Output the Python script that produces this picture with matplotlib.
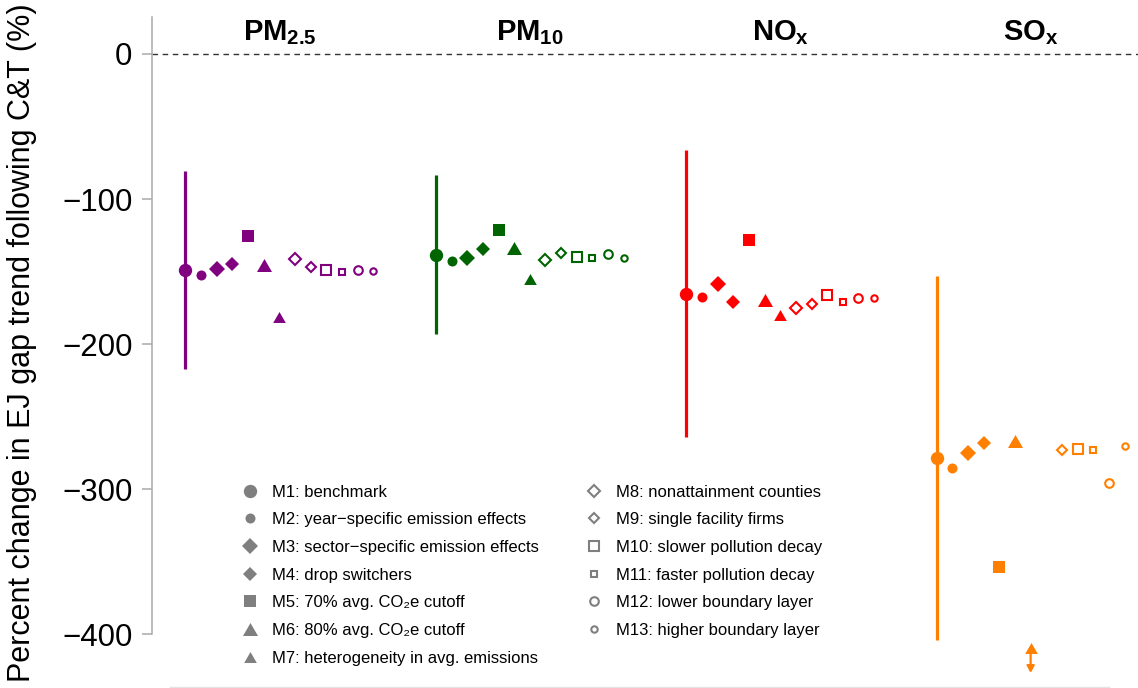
import numpy as np
import matplotlib
matplotlib.use("Agg")
import matplotlib.pyplot as plt
from matplotlib.lines import Line2D

plt.rcParams['font.family'] = ['Liberation Sans', 'DejaVu Sans']
plt.rcParams['mathtext.fontset'] = 'custom'
plt.rcParams['mathtext.rm'] = 'Liberation Sans'
plt.rcParams['mathtext.bf'] = 'Liberation Sans:bold'

# pollutants and their colours
pollutants = [r'$\mathbf{PM}_{\mathbf{2.5}}$', r'$\mathbf{PM}_{\mathbf{10}}$',
              r'$\mathbf{NO}_{\mathbf{x}}$', r'$\mathbf{SO}_{\mathbf{x}}$']
colors = ['#800080', '#006400', '#ff0000', '#ff7f00']

# 95% CI of the benchmark model (M1)
ci_low = [-217.2, -193.1, -264.1, -404.1]
ci_high = [-80.7, -83.4, -66.2, -153.1]

# point estimates, models M1..M13 (nan = not estimated)
pm25 = [-148.9, -152.2, -148.5, -144.8, -125.5, -145.5, -181.5,
        -141.6, -146.7, -149.0, -150.6, -149.0, -149.9]
pm10 = [-138.6, -142.5, -140.9, -134.5, -121.4, -133.8, -155.0,
        -142.0, -137.0, -139.8, -140.7, -137.9, -140.5]
nox = [-165.3, -167.4, -158.6, -171.2, -128.5, -169.9, -179.9,
       -175.0, -172.6, -166.0, -171.2, -168.3, -168.3]
sox = [-278.6, -285.3, -275.4, -268.5, -354.0, -266.9, -480.0,
       np.nan, -273.1, -272.4, -273.1, -295.6, -270.3]

model_labels = [
    'M1: benchmark',
    'M2: year\u2212specific emission effects',
    'M3: sector\u2212specific emission effects',
    'M4: drop switchers',
    'M5: 70% avg. CO\u2082e cutoff',
    'M6: 80% avg. CO\u2082e cutoff',
    'M7: heterogeneity in avg. emissions',
    'M8: nonattainment counties',
    'M9: single facility firms',
    'M10: slower pollution decay',
    'M11: faster pollution decay',
    'M12: lower boundary layer',
    'M13: higher boundary layer',
]

estimates = [pm25, pm10, nox, sox]

tri = [(-1, -0.866), (1, -0.866), (0, 0.866), (-1, -0.866)]
# (marker, size, filled) per model
styles = [
    ('o', 9.6, True), ('o', 7.2, True),
    ('D', 8.5, True), ('D', 6.8, True),
    ('s', 9.1, True),
    (tri, 10.8, True), (tri, 9.1, True),
    ('D', 6.6, False), ('D', 4.6, False),
    ('s', 7.2, False), ('s', 4.8, False),
    ('o', 6.2, False), ('o', 4.6, False),
]

def mstyle(i, c):
    m, ms, filled = styles[i]
    if filled:
        return dict(marker=m, ms=ms, mfc=c, mec=c, mew=0, ls='none')
    return dict(marker=m, ms=ms, mfc='white', mec=c, mew=1.5, ls='none')

group_gap = 16
floor_val = -409.3   # where off-scale estimates are pinned

fig = plt.figure(figsize=(11.38, 6.88), dpi=100)
ax = fig.add_axes([152/1138, 1/688, 1 - 152/1138, 1 - 18/688])

ax.axhline(0, color='#333333', lw=1.0, ls=(0, (4, 3.3)), zorder=1)

for g, (vals, c) in enumerate(zip(estimates, colors)):
    x0 = g * group_gap
    ax.plot([x0, x0], [ci_low[g], ci_high[g]], color=c, lw=2.3,
            solid_capstyle='butt', zorder=2)
    for i, v in enumerate(vals):
        if np.isnan(v):
            continue
        x = x0 + i
        if v < floor_val:
            ax.annotate('', xy=(x, floor_val - 17.5), xytext=(x, floor_val),
                        arrowprops=dict(arrowstyle='-|>,head_length=0.4,head_width=0.22',
                                        color=c, lw=1.6, shrinkA=0, shrinkB=0))
            ax.plot([x], [floor_val], zorder=3, **mstyle(i, c))
        else:
            ax.plot([x], [v], zorder=3, **mstyle(i, c))
    ax.text(x0 + 6, 9.7, pollutants[g], ha='center', va='baseline',
            fontsize=21, fontweight='bold')

ax.set_xlim(-2.14, 60.86)
ax.set_ylim(-436.5, 25.5)
ax.set_yticks([0, -100, -200, -300, -400])
ax.set_xticks([])
ax.tick_params(axis='y', length=7, width=1.1, color='#aaaaaa', pad=7,
               labelsize=22.5)

for s in ['top', 'right']:
    ax.spines[s].set_visible(False)
ax.spines['left'].set_color('#aaaaaa')
ax.spines['left'].set_linewidth(1.1)
ax.spines['left'].set_bounds(-400, 25.5)
ax.spines['bottom'].set_color('#e3e3e3')
ax.spines['bottom'].set_linewidth(1.0)
ax.spines['bottom'].set_bounds(-1, 59)

fig.text(22/1138, 1 - 343/688, 'Percent change in EJ gap trend following C&T (%)',
         rotation=90, ha='center', va='center', fontsize=22)

handles = [Line2D([], [], **mstyle(i, '#7f7f7f')) for i in range(13)]
ax.legend(handles, model_labels, ncol=2, loc='upper left',
          bbox_to_anchor=(0.0906, 0.302), frameon=False, fontsize=12,
          borderpad=0, borderaxespad=0, handlelength=1.0, handletextpad=0.82,
          labelspacing=0.76, columnspacing=2.85, numpoints=1)

fig.savefig('out.png', dpi=100)
